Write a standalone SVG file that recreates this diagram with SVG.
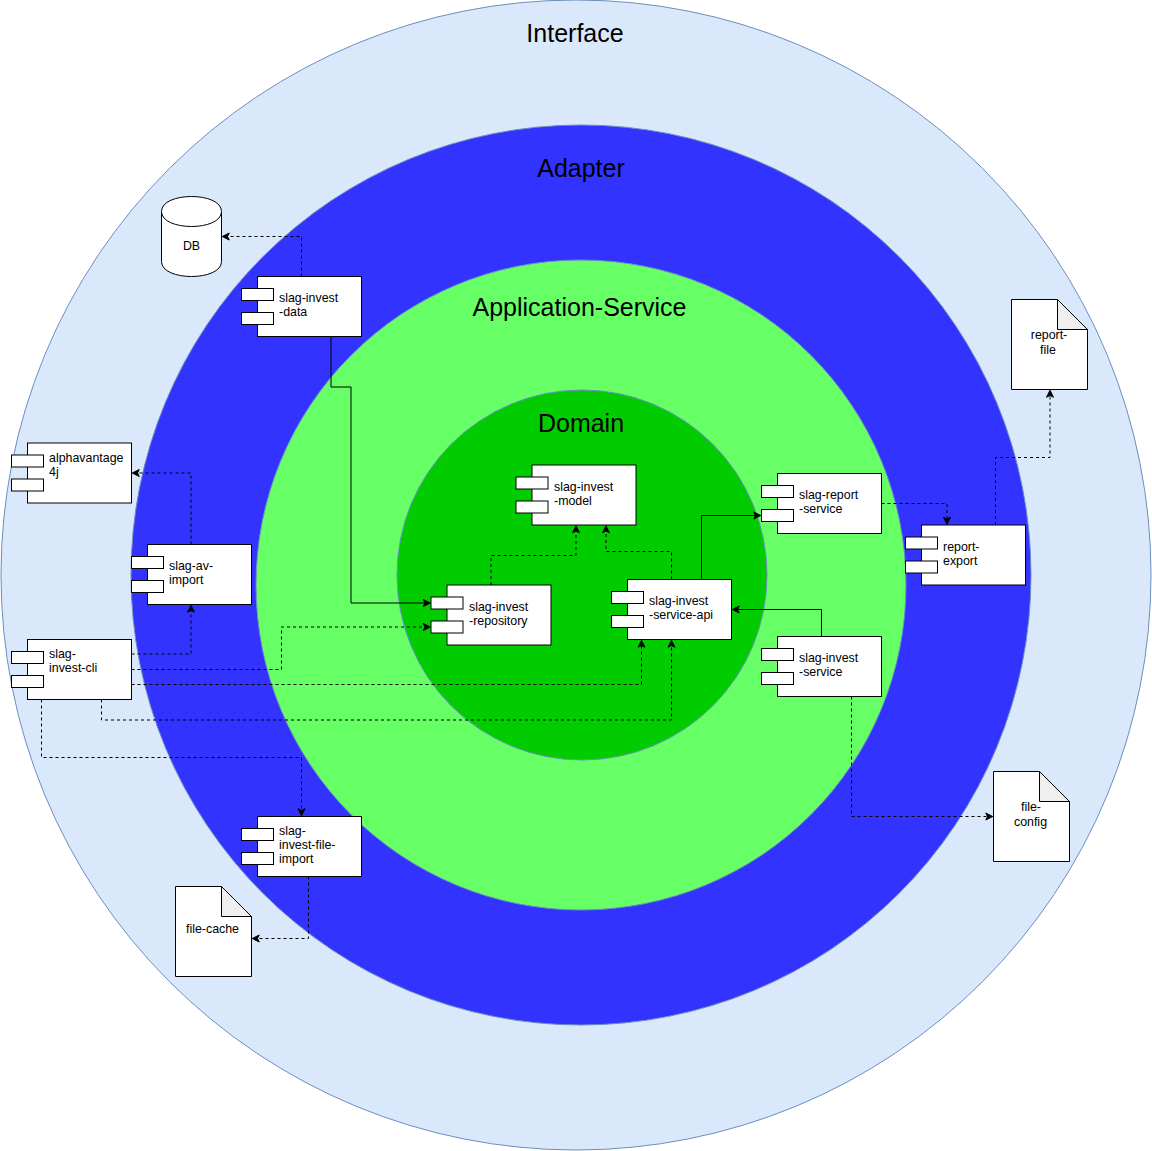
<svg xmlns="http://www.w3.org/2000/svg" width="1152" height="1151" viewBox="0 0 1152 1151">
<style>
.ring{stroke:#6c8ebf;stroke-width:1}
.box{fill:#fff;stroke:#000;stroke-width:1}
.fold{fill:#efefef;stroke:#000;stroke-width:1}
.dash{fill:none;stroke:#000;stroke-width:1;stroke-dasharray:3 3;marker-end:url(#arrow)}
.solid{fill:none;stroke:#000;stroke-width:1;marker-end:url(#arrow)}
text{font-family:"Liberation Sans",Arial,sans-serif;font-size:12.4px;fill:#000}
.title{font-size:25px;text-anchor:middle}
.mid{text-anchor:middle}
</style>
<defs>
<marker id="arrow" markerUnits="userSpaceOnUse" viewBox="0 0 10 10" markerWidth="10" markerHeight="10" refX="2.75" refY="5" orient="auto">
<path d="M1 1.5L8 5L1 8.5L2.75 5Z" fill="#000" stroke="#000"/>
</marker>
<g id="comp">
<rect class="box" x="16" y="0" width="104" height="60"/>
<rect class="box" x="0" y="12" width="32" height="12"/>
<rect class="box" x="0" y="36" width="32" height="12"/>
</g>
<g id="doc">
<path class="box" d="M0 0H46L76 30V90H0Z"/>
<path class="fold" d="M46 0V30H76Z"/>
</g>
</defs>
<g id="rings">
<circle id="interface" class="ring" cx="576" cy="575" r="575" fill="#dae8fc"/>
<circle id="adapter" class="ring" cx="581" cy="575" r="450" fill="#3333ff"/>
<circle id="application-service" class="ring" cx="581" cy="585" r="325" fill="#66ff66"/>
<circle id="domain" class="ring" cx="582" cy="575" r="185" fill="#00cc00"/>
<text class="title" x="575" y="41.500">Interface</text>
<text class="title" x="581" y="177">Adapter</text>
<text class="title" x="579.5" y="316">Application-Service</text>
<text class="title" x="581" y="432">Domain</text>
</g>
<g id="db">
<path class="box" d="M161.5 211.500C161.500 191.500 221.500 191.500 221.500 211.500V261.500C221.500 281.500 161.500 281.500 161.500 261.500Z"/>
<path class="box" fill="none" d="M161.500 211.500C161.500 231.500 221.500 231.500 221.500 211.500"/>
<text class="mid" x="191.500" y="250">DB</text>
</g>
<g id="alphavantage"><use href="#comp" x="11.500" y="443"/><text x="49" y="462">alphavantage</text><text x="49" y="476">4j</text></g>
<g id="slag-av-import"><use href="#comp" x="131.500" y="544.500"/><text x="169" y="570">slag-av-</text><text x="169" y="584">import</text></g>
<g id="slag-invest-cli"><use href="#comp" x="11.500" y="639.500"/><text x="49" y="658">slag-</text><text x="49" y="672">invest-cli</text></g>
<g id="slag-invest-data"><use href="#comp" x="241.500" y="276.500"/><text x="279" y="302">slag-invest</text><text x="279" y="316">-data</text></g>
<g id="slag-invest-file-import"><use href="#comp" x="241.500" y="816.500"/><text x="279" y="835">slag-</text><text x="279" y="849">invest-file-</text><text x="279" y="863">import</text></g>
<g id="slag-invest-model"><use href="#comp" x="516" y="465"/><text x="554" y="491">slag-invest</text><text x="554" y="505">-model</text></g>
<g id="slag-invest-repository"><use href="#comp" x="431" y="585"/><text x="469" y="611">slag-invest</text><text x="469" y="625">-repository</text></g>
<g id="slag-invest-service-api"><use href="#comp" x="611.500" y="579.500"/><text x="649" y="605">slag-invest</text><text x="649" y="619">-service-api</text></g>
<g id="slag-report-service"><use href="#comp" x="761.500" y="473.500"/><text x="799" y="499">slag-report</text><text x="799" y="513">-service</text></g>
<g id="slag-invest-service"><use href="#comp" x="761.500" y="636.500"/><text x="799" y="662">slag-invest</text><text x="799" y="676">-service</text></g>
<g id="report-export"><use href="#comp" x="905.500" y="525"/><text x="943" y="551">report-</text><text x="943" y="565">export</text></g>
<g id="report-file"><use href="#doc" x="1011.500" y="299.500"/><text class="mid" x="1049" y="339">report-</text><text class="mid" x="1048" y="354">file</text></g>
<g id="file-cache"><use href="#doc" x="175.500" y="886.500"/><text class="mid" x="212.500" y="933">file-cache</text></g>
<g id="file-config"><use href="#doc" x="993.500" y="771.500"/><text class="mid" x="1031" y="811">file-</text><text class="mid" x="1030.500" y="826">config</text></g>
<g id="connectors">
<path class="dash" d="M301.500 276.500V236.500H227.500"/>
<path class="solid" d="M331 336.500V387H351V603H425"/>
<path class="dash" d="M491 585V555.500H576V531"/>
<path class="dash" d="M671.500 579.500V551.500H606V531"/>
<path class="solid" d="M701.500 579.500V515.500H755.500"/>
<path class="dash" d="M881.500 503.500H947V519"/>
<path class="dash" d="M995.500 525V457.500H1050V395.500"/>
<path class="dash" d="M191 544.500V473H137.500"/>
<path class="dash" d="M131.500 654H191V610.500"/>
<path class="dash" d="M131.500 669.500H281.500V627H425"/>
<path class="dash" d="M131.500 684.500H641.500V645.500"/>
<path class="dash" d="M101.500 699.500V720H671.500V645.500"/>
<path class="dash" d="M41.500 699.500V757.500H301.500V810.500"/>
<path class="dash" d="M308.500 876.500V938.500H257.500"/>
<path class="solid" d="M821.500 636.500V609.500H737.500"/>
<path class="dash" d="M851.500 696.500V816.500H987.500"/>
</g>
</svg>
